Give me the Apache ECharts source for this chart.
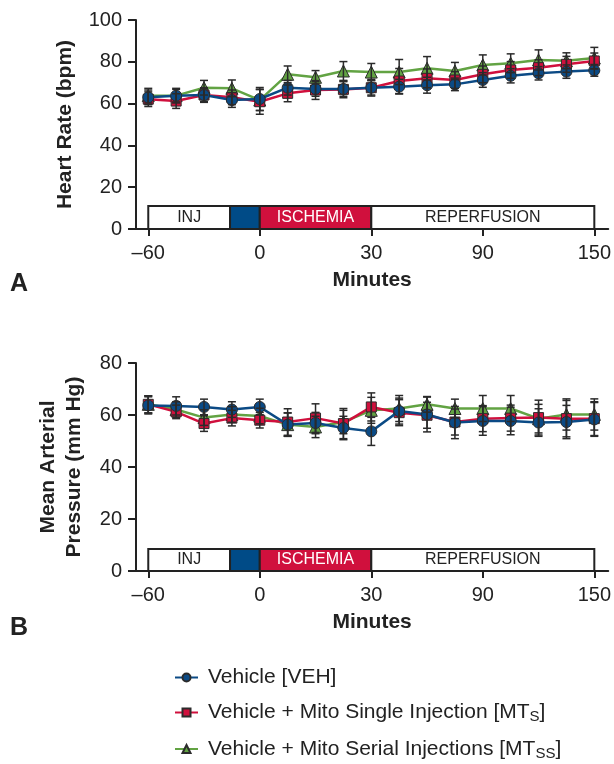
<!DOCTYPE html>
<html>
<head>
<meta charset="utf-8">
<script src="https://cdn.jsdelivr.net/npm/echarts@6/dist/echarts.min.js"></script>
<style>
html,body{margin:0;padding:0;background:#fff;}
#chart{width:614px;height:764px;}
</style>
</head>
<body>
<div id="chart"></div>
<script>
// Time points (minutes)
const minutes = [-60,-45,-30,-15,0,7.5,15,22.5,30,45,60,75,90,105,120,135,150];
const tickMinutes = [-60,0,30,90,150];
const tickLabels = ['\u201360','0','30','90','150'];

// Series names
const names = ['Vehicle [VEH]','Vehicle + Mito Single Injection [MTS]','Vehicle + Mito Serial Injections [MTSS]'];

// Panel A: Heart rate (bpm)
const hrVEH  = [63.0,63.8,64.1,61.7,62.2,67.6,67.0,67.0,67.6,68.1,68.8,69.2,71.3,73.3,74.5,75.3,75.9];
const hrMTS  = [62.1,61.2,64.1,63.0,60.9,64.9,66.5,66.8,67.6,70.8,72.1,71.3,74.0,76.1,77.2,78.8,80.4];
const hrMTSS = [63.8,63.8,67.6,67.3,61.7,74.0,72.6,75.6,75.1,75.1,76.9,75.6,78.5,79.3,80.9,80.5,81.8];
const hrVEHerr  = [3.5,3.5,3.0,3.5,5.5,3.5,3.5,3.5,3.5,3.5,3.8,3.0,3.5,3.4,3.2,3.2,2.8];
const hrMTSerr  = [3.5,3.5,3.5,3.5,6.0,4.0,4.5,4.0,4.0,6.0,4.5,4.0,4.0,4.0,3.8,3.8,3.8];
const hrMTSSerr = [3.5,3.0,3.5,4.0,5.0,4.0,3.2,4.5,4.1,6.0,5.6,4.1,4.8,4.5,4.8,3.8,5.1];

// Panel B: Mean arterial pressure (mm Hg)
const mapVEH  = [63.7,63.5,63.1,62.1,63.1,56.3,56.9,55.0,53.7,61.5,60.2,57.1,57.7,57.7,57.1,57.3,58.3];
const mapMTS  = [64.1,61.2,56.7,58.8,58.0,57.3,58.8,56.7,63.1,60.9,59.9,57.3,58.6,58.8,59.0,58.6,58.6];
const mapMTSS = [64.1,62.1,59.0,60.2,59.6,56.3,55.4,57.3,61.8,62.5,64.1,62.5,62.5,62.5,58.6,60.2,60.2];
const mapVEHerr  = [3.3,3.5,3.0,3.0,3.0,4.5,4.1,4.5,5.4,5.0,6.7,6.2,5.5,5.3,5.3,6.4,6.5];
const mapMTSerr  = [3.3,2.6,3.0,3.0,3.0,5.1,5.5,5.8,5.4,5.0,5.0,5.0,5.0,5.0,6.7,7.0,6.5];
const mapMTSSerr = [3.3,3.0,3.0,3.0,3.0,4.5,4.1,4.5,5.0,5.0,3.0,3.6,5.0,5.0,5.5,6.0,6.0];

// Protocol phases (minutes)
const phaseLabels = ['INJ','','ISCHEMIA','REPERFUSION'];
const phaseStart  = [-60,-16,0,30];
const phaseEnd    = [-16,0,30,150];

const colors = ['#0b4a85','#d0103d','#62a343'];
const symbols = ['circle','rect','triangle'];
const phaseFill = ['#ffffff','#004b87','#d0103d','#ffffff'];
const phaseText = ['#222','#fff','#fff','#222'];

// map minutes -> position on the (piecewise) time axis
function pos(m){
  for(let i=0;i<minutes.length-1;i++){
    if(m>=minutes[i] && m<=minutes[i+1]){
      return i + (m-minutes[i])/(minutes[i+1]-minutes[i]);
    }
  }
  return m < minutes[0] ? 0 : minutes.length-1;
}
const tickPos = tickMinutes.map(pos);

const FONT = 'Liberation Sans, Arial, Helvetica, sans-serif';

function xAxisDef(gi){
  return {
    type:'value', gridIndex:gi, min:-0.44, max:16.5,
    name:'Minutes', nameLocation:'middle', nameGap:41,
    nameTextStyle:{fontFamily:FONT, fontWeight:'bold', fontSize:21, color:'#222'},
    axisLine:{show:true, onZero:false, lineStyle:{color:'#222', width:2}},
    axisTick:{show:true, customValues:tickPos, length:7, lineStyle:{color:'#222', width:2}},
    axisLabel:{customValues:tickPos, margin:14, fontFamily:FONT, fontSize:20, color:'#222',
      formatter:function(v){ const k = tickPos.findIndex(p=>Math.abs(p-v)<1e-6); return k>=0?tickLabels[k]:''; }},
    splitLine:{show:false}
  };
}
function yAxisDef(gi, max, name, gap){
  return {
    type:'value', gridIndex:gi, min:0, max:max, interval:20,
    name:name, nameLocation:'middle', nameGap:gap,
    nameTextStyle:{fontFamily:FONT, fontWeight:'bold', fontSize:21, color:'#222', lineHeight:26, align:'center'},
    axisLine:{show:true, onZero:false, lineStyle:{color:'#222', width:2}},
    axisTick:{show:true, length:8, lineStyle:{color:'#222', width:2}},
    axisLabel:{margin:14, fontFamily:FONT, fontSize:20, color:'#222'},
    splitLine:{show:false}
  };
}

function lineSeries(k, vals, gi){
  return {
    type:'line', name:names[k], xAxisIndex:gi, yAxisIndex:gi,
    data: vals.map((v,i)=>[pos(minutes[i]), v]),
    symbol:symbols[k], symbolSize: k===1?10:(k===2?12:11),
    lineStyle:{color:colors[k], width:2.5},
    itemStyle:{color:colors[k], borderColor:'#2b2b2b', borderWidth:1},
    z: 3 + (2-k), animation:false
  };
}
function errSeries(k, vals, errs, gi){
  return {
    type:'custom', xAxisIndex:gi, yAxisIndex:gi, silent:true, animation:false,
    data: vals.map((v,i)=>[pos(minutes[i]), v, errs[i]]),
    encode:{x:0, y:1},
    z: 6,
    renderItem:function(params, api){
      const x=api.value(0), y=api.value(1), e=api.value(2);
      const t=api.coord([x,y+e]), b=api.coord([x,y-e]);
      const w=4;
      const st={stroke:'#2a2a2a', lineWidth:1.5};
      return {type:'group', children:[
        {type:'line', shape:{x1:t[0],y1:t[1],x2:b[0],y2:b[1]}, style:st},
        {type:'line', shape:{x1:t[0]-w,y1:t[1],x2:t[0]+w,y2:t[1]}, style:st},
        {type:'line', shape:{x1:b[0]-w,y1:b[1],x2:b[0]+w,y2:b[1]}, style:st}
      ]};
    }
  };
}
function phaseSeries(gi, h){
  return {
    type:'line', xAxisIndex:gi, yAxisIndex:gi, data:[], silent:true, z:1,
    markArea:{
      silent:true,
      data: phaseLabels.map((lab,i)=>[
        {xAxis:pos(phaseStart[i]), yAxis:0, name:lab,
          itemStyle:{color:phaseFill[i], borderColor:'#222', borderWidth:2},
          label:{show:true, position:'inside', color:phaseText[i], fontFamily:FONT, fontSize:16}},
        {xAxis:pos(phaseEnd[i]), yAxis:h}
      ])
    }
  };
}

const series = [];
[[hrVEH,hrMTS,hrMTSS,hrVEHerr,hrMTSerr,hrMTSSerr,0,11],[mapVEH,mapMTS,mapMTSS,mapVEHerr,mapMTSerr,mapMTSSerr,1,8.5]].forEach(p=>{
  const gi=p[6];
  series.push(phaseSeries(gi, p[7]));
  // draw order: serial, single, vehicle (vehicle on top)
  for(let k=2;k>=0;k--) series.push(lineSeries(k, p[k], gi));
  for(let k=2;k>=0;k--) series.push(errSeries(k, p[k], p[k+3], gi));
});

const chart = echarts.init(document.getElementById('chart'), null, {renderer:'canvas'});
chart.setOption({
  animation:false,
  backgroundColor:'#fff',
  grid:[
    {left:136, top:20, width:473, height:209},
    {left:136, top:363, width:473, height:208}
  ],
  xAxis:[xAxisDef(0), xAxisDef(1)],
  yAxis:[yAxisDef(0,100,'Heart Rate (bpm)',42), yAxisDef(1,80,'Mean Arterial\nPressure (mm Hg)',49)],
  legend:{
    data:names, orient:'vertical', left:174, top:667, height:110, itemGap:14,
    itemWidth:23, itemHeight:10, padding:0,
    textStyle:{fontFamily:FONT, fontSize:21, color:'#222', padding:[0,0,0,5],
      rich:{n:{fontFamily:FONT, fontSize:21, color:'#222'}, s:{fontFamily:FONT, fontSize:15, color:'#222', padding:[9,0,0,0]}}},
    formatter:function(n){
      if(n===names[1]) return '{n|Vehicle + Mito Single Injection [MT}{s|S}{n|]}';
      if(n===names[2]) return '{n|Vehicle + Mito Serial Injections [MT}{s|SS}{n|]}';
      return '{n|'+n+'}';
    }
  },
  graphic:[
    {type:'text', left:10, top:272, style:{text:'A', font:'bold 25px '+FONT, fill:'#222'}},
    {type:'text', left:10, top:616, style:{text:'B', font:'bold 25px '+FONT, fill:'#222'}}
  ],
  series:series
});
</script>
</body>
</html>
